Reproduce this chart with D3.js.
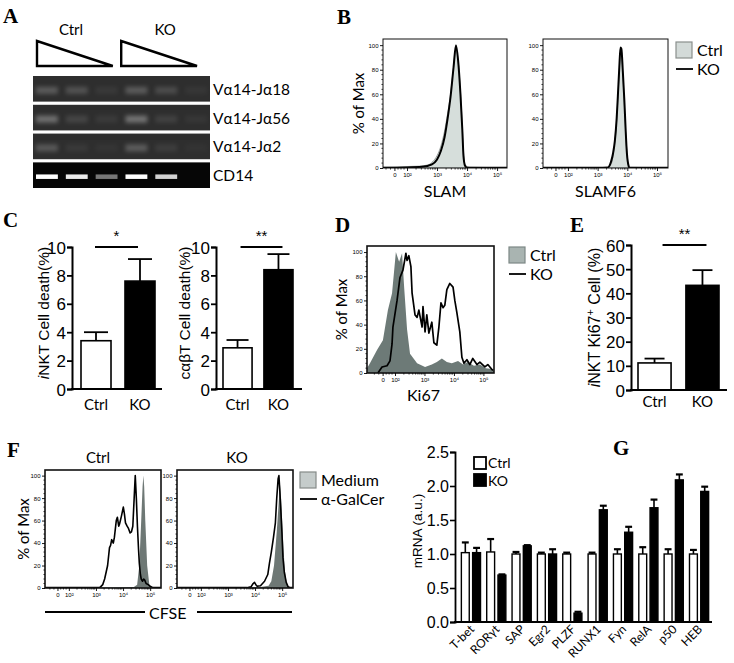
<!DOCTYPE html>
<html><head><meta charset="utf-8">
<script src="https://cdn.jsdelivr.net/npm/d3@7"></script>
<style>body{margin:0;background:#fff} svg{display:block}</style>
</head><body>
<svg id="c" width="734" height="663"></svg>
<script>
// ---------------- DATA ----------------
// Panel A (gel): lanes, rows and band intensities (0..1)
const gelGroups = ["Ctrl", "KO"];
const gelLanes = ["Ctrl 1", "Ctrl 2", "Ctrl 3", "KO 1", "KO 2", "KO 3"];
const gelRows = ["Vα14-Jα18", "Vα14-Jα56", "Vα14-Jα2", "CD14"];
const gelJa18 = [0.42, 0.34, 0.10, 0.42, 0.28, 0.08];
const gelJa56 = [0.62, 0.22, 0.12, 0.66, 0.18, 0.08];
const gelJa2 = [0.40, 0.10, 0.06, 0.44, 0.14, 0.05];
const gelCD14 = [1.0, 0.92, 0.45, 1.0, 0.82, 0.0];

// Flow cytometry axes
const flowYTicks = [0, 20, 40, 60, 80, 100];
const flowXTicks = [1.58, 2, 3, 4, 5];
const flowXLabels = ["0", "10²", "10³", "10⁴", "10⁵"];

// Panel B: [log10 intensity, % of max]
const slamCtrl = [[1.2,0.6],[1.6,0.8],[2.0,1.2],[2.4,1.5],[2.7,2.5],[2.85,5],[3.0,10],[3.13,18],[3.25,30],[3.35,44],[3.45,60],[3.55,82],[3.63,98],[3.7,88],[3.78,62],[3.84,35],[3.89,10],[3.95,2],[4.1,0.6],[4.6,0.4],[5.33,0.3]];
const slamKO = [[1.2,0.3],[2.0,0.5],[2.5,1],[2.83,3],[3.0,7],[3.13,14],[3.25,25],[3.35,40],[3.45,58],[3.55,82],[3.63,100],[3.7,88],[3.78,60],[3.84,32],[3.88,10],[3.93,2],[4.0,0.3],[5.33,0.2]];
const slamf6Ctrl = [[1.16,0.2],[3.3,0.3],[3.45,3],[3.55,15],[3.64,38],[3.7,65],[3.76,92],[3.79,97],[3.84,80],[3.9,52],[3.96,22],[4.02,5],[4.07,0.5],[5.37,0.2]];
const slamf6KO = [[1.16,0.3],[3.0,0.3],[3.35,0.5],[3.45,5],[3.52,12],[3.58,22],[3.64,40],[3.68,58],[3.73,82],[3.77,98],[3.8,97],[3.85,78],[3.9,55],[3.94,33],[3.97,18],[4.0,8],[4.03,3],[4.07,0.3],[5.37,0.3]];

// Panel C: cell death (%)
const deathGroups = ["Ctrl", "KO"];
const nktDeath = [3.4, 7.6];
const nktDeathErr = [0.6, 1.55];
const abtDeath = [2.9, 8.4];
const abtDeathErr = [0.55, 1.1];

// Panel D: Ki67 histograms
const ki67Ctrl = [[1.05,4],[1.15,8],[1.39,19],[1.59,27],[1.76,52],[1.9,66],[2.03,100],[2.14,92],[2.24,99],[2.31,71],[2.41,36],[2.51,16],[2.75,8],[3.02,5],[3.25,7],[3.42,9],[3.59,12],[3.76,9],[3.93,8],[4.14,10],[4.31,7],[4.47,9],[4.68,6],[4.88,7],[5.08,4],[5.36,3]];
const ki67KO = [[1.42,0],[1.56,5],[1.73,6],[1.83,10],[1.9,24],[1.93,38],[2.07,60],[2.17,79],[2.27,85],[2.37,99],[2.41,93],[2.47,97],[2.54,88],[2.58,66],[2.68,48],[2.75,46],[2.81,52],[2.92,38],[2.95,55],[3.02,34],[3.08,48],[3.15,33],[3.25,42],[3.32,25],[3.42,23],[3.49,38],[3.56,58],[3.63,54],[3.69,56],[3.76,69],[3.86,74],[3.97,71],[4.03,60],[4.1,50],[4.2,34],[4.27,13],[4.34,8],[4.44,11],[4.54,7],[4.64,12],[4.78,7],[4.88,9],[5.05,5],[5.15,7],[5.32,2]];

// Panel E: iNKT Ki67+ (%)
const ki67Groups = ["Ctrl", "KO"];
const ki67Pos = [11.2, 43.3];
const ki67PosErr = [1.8, 6.3];

// Panel F: CFSE histograms
const cfseCtrlMedium = [[1.12,0.5],[3.0,0.5],[4.4,0.8],[4.52,3],[4.6,20],[4.67,60],[4.72,90],[4.75,100],[4.78,90],[4.82,60],[4.89,20],[4.97,3],[5.04,0.5],[5.4,0.3]];
const cfseCtrlGalCer = [[1.12,0.3],[3.1,0.3],[3.17,1],[3.25,3],[3.32,8],[3.43,20],[3.5,36],[3.54,38],[3.58,43],[3.64,40],[3.68,45],[3.75,60],[3.79,63],[3.84,55],[3.87,57],[3.94,64],[4.01,72],[4.05,66],[4.09,58],[4.15,55],[4.2,53],[4.26,49],[4.31,50],[4.36,55],[4.41,80],[4.45,100],[4.49,80],[4.53,55],[4.57,35],[4.6,22],[4.64,12],[4.67,8],[4.72,6],[4.76,8],[4.8,7],[4.85,4],[4.93,3],[5.0,1.5],[5.1,0.3],[5.4,0.3]];
const cfseKOMedium = [[1.12,0.3],[2.2,0.8],[2.6,0.5],[3.5,0.5],[4.2,1],[4.5,2],[4.6,6],[4.7,20],[4.8,50],[4.87,75],[4.92,92],[4.96,80],[5.0,60],[5.05,35],[5.1,15],[5.17,4],[5.25,0.5],[5.4,0.3]];
const cfseKOGalCer = [[1.12,0.3],[3.7,0.3],[3.85,1],[3.93,4],[3.98,5],[4.03,3],[4.08,1.5],[4.2,2],[4.35,6],[4.47,12],[4.53,22],[4.6,32],[4.68,45],[4.75,58],[4.8,80],[4.85,97],[4.88,100],[4.91,88],[4.95,70],[4.99,50],[5.03,27],[5.08,14],[5.15,5],[5.22,1],[5.3,0.3],[5.4,0.3]];

// Panel G: mRNA (a.u.)
const geneNames = ["T-bet", "RORγt", "SAP", "Egr2", "PLZF", "RUNX1", "Fyn", "RelA", "p50", "HEB"];
const mrnaSeries = ["Ctrl", "KO"];
const mrnaCtrl = [1.02, 1.03, 1.0, 1.0, 1.0, 1.0, 1.0, 1.0, 1.0, 1.0];
const mrnaCtrlErr = [0.15, 0.19, 0.03, 0.02, 0.02, 0.02, 0.07, 0.1, 0.07, 0.06];
const mrnaKO = [1.02, 0.69, 1.12, 1.0, 0.13, 1.65, 1.32, 1.68, 2.09, 1.92];
const mrnaKOErr = [0.07, 0.01, 0.01, 0.07, 0.02, 0.06, 0.08, 0.12, 0.08, 0.07];
const mrnaTicks = [0, 0.5, 1.0, 1.5, 2.0, 2.5];

// ---------------- DRAW ----------------
const svg = d3.select("#c");
const SERIF = "'Liberation Serif','Times New Roman',serif";
const SANS = "Lato,'Noto Sans',sans-serif";
const ARIAL = "'Liberation Sans',Arial,sans-serif";
const defs = svg.append("defs");
defs.append("filter").attr("id","blurA").attr("x","-50%").attr("y","-100%").attr("width","200%").attr("height","300%")
  .append("feGaussianBlur").attr("stdDeviation", 1.9);
defs.append("filter").attr("id","blurB").attr("x","-50%").attr("y","-100%").attr("width","200%").attr("height","300%")
  .append("feGaussianBlur").attr("stdDeviation", 0.7);

function letter(t, x, y) {
  svg.append("text").attr("x", x).attr("y", y).attr("font-family", SERIF)
    .attr("font-weight", "bold").attr("font-size", 21).text(t);
}
function txt(g, t, x, y, size, opts = {}) {
  const e = g.append("text").attr("x", x).attr("y", y).attr("font-family", opts.font || SANS)
    .attr("font-size", size).attr("text-anchor", opts.anchor || "start").text(t);
  if (opts.rotate) e.attr("transform", `rotate(${opts.rotate},${x},${y})`);
  return e;
}

// ===== Panel A =====
letter("A", 3, 23);
(function () {
  const g = svg.append("g");
  const grp = d3.scaleBand().domain(gelGroups).range([37, 197]).paddingInner(0.1);
  gelGroups.forEach((k, i) => {
    const x0 = grp(k), x1 = x0 + grp.bandwidth();
    g.append("path").attr("d", `M${x0},41 L${x0},66 L${x1},66 Z`)
      .attr("fill", "#fff").attr("stroke", "#000").attr("stroke-width", 2.4).attr("stroke-linejoin", "miter");
    txt(g, k, x0 + [34, 44][i], 35, 15, { anchor: "middle" });
  });
  const lane = d3.scaleBand().domain(gelLanes).range([35, 208]).paddingInner(0.2);
  const row = d3.scaleBand().domain(gelRows).range([76, 188]).paddingInner(0.11);
  const rowVals = [gelJa18, gelJa56, gelJa2, gelCD14];
  gelRows.forEach((r, ri) => {
    const last = ri === gelRows.length - 1;
    const y0 = row(r), h = row.bandwidth();
    g.append("rect").attr("x", 33).attr("y", y0).attr("width", 177).attr("height", h)
      .attr("fill", last ? "#060606" : "#2e2e2e");
    const cy = y0 + h / 2 + 1.5;
    const bh = last ? 4.5 : 7;
    g.selectAll(null).data(gelLanes).join("rect")
      .attr("x", d => lane(d) + 1).attr("width", lane.bandwidth() - 2)
      .attr("y", cy - bh / 2).attr("height", bh)
      .attr("fill", "#fff")
      .attr("opacity", (d, i) => last ? rowVals[ri][i] : rowVals[ri][i] * 0.5)
      .attr("filter", last ? "url(#blurB)" : "url(#blurA)");
    txt(g, r, 213, cy + 4.5, 15.5);
  });
})();

// ===== Flow helper =====
function flowPanel(o) {
  const g = svg.append("g");
  const x = d3.scaleLinear().domain(o.dom).range([o.x0, o.x1]);
  const y = d3.scaleLinear().domain([0, 105]).range([o.yb, o.yt]);
  const cid = "clip" + o.id;
  g.append("clipPath").attr("id", cid).append("rect")
    .attr("x", o.x0).attr("y", o.yt).attr("width", o.x1 - o.x0).attr("height", o.yb - o.yt);
  const body = g.append("g").attr("clip-path", `url(#${cid})`);
  const area = d3.area().x(d => x(d[0])).y0(y(0)).y1(d => y(d[1])).curve(o.curve);
  const line = d3.line().x(d => x(d[0])).y(d => y(d[1])).curve(o.curve);
  body.append("path").datum(o.filled).attr("d", area).attr("fill", o.fill)
    .attr("stroke", o.fillStroke || "none").attr("stroke-width", 0.9);
  body.append("path").datum(o.lined).attr("d", line).attr("fill", "none")
    .attr("stroke", "#000").attr("stroke-width", o.sw || 1.6).attr("stroke-linejoin", "round");
  g.append("rect").attr("x", o.x0).attr("y", o.yt).attr("width", o.x1 - o.x0).attr("height", o.yb - o.yt)
    .attr("fill", "none").attr("stroke", "#111").attr("stroke-width", o.frameW || 1.2);
  // y axis
  const ya = g.append("g").attr("transform", `translate(${o.x0},0)`)
    .call(d3.axisLeft(y).tickValues(flowYTicks).tickSize(3).tickPadding(1.5).tickFormat(d3.format("d")));
  ya.select(".domain").remove();
  ya.selectAll("text").attr("font-size", 6).attr("font-family", ARIAL);
  ya.selectAll("line").attr("stroke-width", 0.9);
  g.append("g").selectAll("line").data(d3.range(0, 101, 4).filter(v => v % 20)).join("line")
    .attr("x1", o.x0 - 1.6).attr("x2", o.x0).attr("y1", d => y(d)).attr("y2", d => y(d))
    .attr("stroke", "#000").attr("stroke-width", 0.7);
  // x axis
  const xa = g.append("g").attr("transform", `translate(0,${o.yb})`)
    .call(d3.axisBottom(x).tickValues(flowXTicks).tickSize(3).tickPadding(2).tickFormat((d, i) => flowXLabels[i]));
  xa.select(".domain").remove();
  xa.selectAll("text").attr("font-size", 6).attr("font-family", ARIAL);
  xa.selectAll("line").attr("stroke-width", 0.9);
  const minor = [];
  [2, 3, 4].forEach(dd => d3.range(2, 10).forEach(k => minor.push(dd + Math.log10(k))));
  [1.3, 1.45, 1.7, 1.8, 1.9].forEach(v => minor.push(v));
  g.append("g").selectAll("line").data(minor.filter(v => v > o.dom[0] && v < o.dom[1])).join("line")
    .attr("x1", d => x(d)).attr("x2", d => x(d)).attr("y1", o.yb).attr("y2", o.yb + 1.6)
    .attr("stroke", "#000").attr("stroke-width", 0.7);
  if (o.xlabel) txt(g, o.xlabel, (o.x0 + o.x1) / 2 + (o.xlabelDx || 0), o.xlabelY, 16, { anchor: "middle" });
  if (o.ylabel) txt(g, "% of Max", o.ylabelX, (o.yt + o.yb) / 2, 15, { anchor: "middle", rotate: -90 });
  return g;
}
function flowLegend(x, y, names, boxFill, boxStroke) {
  const g = svg.append("g");
  g.append("rect").attr("x", x).attr("y", y).attr("width", 16).attr("height", 16)
    .attr("fill", boxFill).attr("stroke", boxStroke).attr("stroke-width", 1.2);
  txt(g, names[0], x + 21, y + 14, 16);
  g.append("line").attr("x1", x).attr("x2", x + 17).attr("y1", y + 27).attr("y2", y + 27)
    .attr("stroke", "#000").attr("stroke-width", 1.8);
  txt(g, names[1], x + 21, y + 33, 16);
}

// ===== Panel B =====
letter("B", 337, 24);
flowPanel({ id: "b1", x0: 383, x1: 507, yt: 39, yb: 168, dom: [1.2, 5.33], filled: slamCtrl, lined: slamKO,
  fill: "#d6dedb", fillStroke: "#8f9593", curve: d3.curveMonotoneX, sw: 2, frameW: 1,
  xlabel: "SLAM", xlabelY: 197, ylabel: true, ylabelX: 364 });
flowPanel({ id: "b2", x0: 543, x1: 668, yt: 39, yb: 168, dom: [1.16, 5.37], filled: slamf6Ctrl, lined: slamf6KO,
  fill: "#d6dedb", fillStroke: "#8f9593", curve: d3.curveMonotoneX, sw: 2, frameW: 1,
  xlabel: "SLAMF6", xlabelY: 197 });
flowLegend(676, 42, ["Ctrl", "KO"], "#d3dad8", "#8a8f8d");

// ===== Bar helper =====
function barPanel(o) {
  const g = svg.append("g");
  const y = d3.scaleLinear().domain([0, o.yMax]).range([o.yb, o.yt]);
  const x = d3.scaleBand().domain(o.cats).range(o.band).paddingInner(o.pad);
  const bw = x.bandwidth();
  g.selectAll(null).data(o.cats).join("line")
    .attr("x1", d => x(d) + bw / 2).attr("x2", d => x(d) + bw / 2)
    .attr("y1", (d, i) => y(o.vals[i])).attr("y2", (d, i) => y(o.vals[i] + o.errs[i]))
    .attr("stroke", "#000").attr("stroke-width", 1.8);
  g.selectAll(null).data(o.cats).join("line")
    .attr("x1", d => x(d) + bw / 2 - o.cap / 2).attr("x2", d => x(d) + bw / 2 + o.cap / 2)
    .attr("y1", (d, i) => y(o.vals[i] + o.errs[i])).attr("y2", (d, i) => y(o.vals[i] + o.errs[i]))
    .attr("stroke", "#000").attr("stroke-width", 1.8);
  g.selectAll(null).data(o.cats).join("rect")
    .attr("x", d => x(d)).attr("width", bw)
    .attr("y", (d, i) => y(o.vals[i])).attr("height", (d, i) => y(0) - y(o.vals[i]))
    .attr("fill", (d, i) => i === 0 ? "#fff" : "#000").attr("stroke", "#000").attr("stroke-width", 1.6);
  const ya = g.append("g").attr("transform", `translate(${o.axisX},0)`)
    .call(d3.axisLeft(y).tickValues(d3.range(0, o.yMax + 0.001, o.step)).tickSize(5).tickPadding(1).tickFormat(d3.format("d")));
  ya.select(".domain").attr("stroke-width", 2);
  ya.selectAll("line").attr("stroke-width", 1.8);
  ya.selectAll("text").attr("font-size", 17).attr("font-family", ARIAL).attr("fill", "#000").attr("dy", "0.36em");
  g.append("line").attr("x1", o.axisX - 1).attr("x2", o.axisEnd).attr("y1", y(0)).attr("y2", y(0))
    .attr("stroke", "#000").attr("stroke-width", 2);
  o.cats.forEach(c => txt(g, c, x(c) + bw / 2, o.catY, 15, { anchor: "middle" }));
  // significance
  const s0 = x(o.cats[0]) + bw / 2 + o.sigDx[0], s1 = x(o.cats[1]) + bw / 2 + o.sigDx[1];
  g.append("line").attr("x1", s0).attr("x2", s1).attr("y1", y(o.yMax)).attr("y2", y(o.yMax))
    .attr("stroke", "#000").attr("stroke-width", 2);
  txt(g, o.sig, (s0 + s1) / 2, y(o.yMax) - 6, 15, { anchor: "middle", font: ARIAL });
  // y label
  const yl = g.append("text").attr("font-family", ARIAL).attr("font-size", o.ylSize || 16)
    .attr("text-anchor", "middle")
    .attr("transform", `translate(${o.ylX},${(o.yb + o.yt) / 2 + (o.ylDy || 0)}) rotate(-90)`);
  o.ylabel(yl);
  return g;
}

// ===== Panel C =====
letter("C", 3, 227);
barPanel({ cats: deathGroups, vals: nktDeath, errs: nktDeathErr, yMax: 10, step: 2, yb: 389, yt: 247,
  band: [81, 155], pad: 0.318, axisX: 72, axisEnd: 162, cap: 24, catY: 410, sig: "*", sigDx: [-1, -2],
  ylX: 49, ylDy: -5, ylSize: 15.5,
  ylabel: t => { t.append("tspan").attr("font-style", "italic").text("i"); t.append("tspan").text("NKT Cell death(%)"); } });
barPanel({ cats: deathGroups, vals: abtDeath, errs: abtDeathErr, yMax: 10, step: 2, yb: 389, yt: 247,
  band: [223, 293], pad: 0.29, axisX: 216, axisEnd: 302, cap: 22, catY: 410, sig: "**", sigDx: [3, 4],
  ylX: 190, ylDy: -5, ylSize: 15.5,
  ylabel: t => t.text("cαβT Cell death(%)") });

// ===== Panel D =====
letter("D", 335, 232);
flowPanel({ id: "d", x0: 367, x1: 494, yt: 246, yb: 373, dom: [1.05, 5.36], filled: ki67Ctrl, lined: ki67KO,
  fill: "#6d7a77", curve: d3.curveLinear, sw: 1.7, frameW: 1.6,
  xlabel: "Ki67", xlabelY: 401, xlabelDx: -7, ylabel: true, ylabelX: 347 });
flowLegend(509, 247, ["Ctrl", "KO"], "#a9b4b1", "#7d8885");

// ===== Panel E =====
letter("E", 570, 232);
barPanel({ cats: ki67Groups, vals: ki67Pos, errs: ki67PosErr, yMax: 60, step: 10, yb: 390, yt: 245,
  band: [638, 719], pad: 0.31, axisX: 631, axisEnd: 727, cap: 20, catY: 407, sig: "**", sigDx: [8, 4],
  ylX: 600, ylDy: 0, ylSize: 16,
  ylabel: t => { t.append("tspan").attr("font-style", "italic").text("i"); t.append("tspan").text("NKT Ki67");
    t.append("tspan").attr("font-size", 11).attr("dy", -6).text("+"); t.append("tspan").attr("dy", 6).text(" Cell (%)"); } });

// ===== Panel F =====
letter("F", 7, 457);
(function () {
  const g = svg.append("g");
  txt(g, "Ctrl", 98, 463, 15, { anchor: "middle" });
  txt(g, "KO", 237, 463, 15, { anchor: "middle" });
})();
flowPanel({ id: "f1", x0: 45, x1: 161, yt: 470, yb: 588, dom: [1.12, 5.4], filled: cfseCtrlMedium, lined: cfseCtrlGalCer,
  fill: "#6e7875", curve: d3.curveLinear, sw: 1.6, frameW: 1.6, ylabel: true, ylabelX: 29 });
flowPanel({ id: "f2", x0: 177, x1: 293, yt: 470, yb: 588, dom: [1.12, 5.4], filled: cfseKOMedium, lined: cfseKOGalCer,
  fill: "#6e7875", curve: d3.curveLinear, sw: 1.6, frameW: 1.6 });
(function () {
  const g = svg.append("g");
  g.append("line").attr("x1", 45).attr("x2", 145).attr("y1", 612).attr("y2", 612).attr("stroke", "#000").attr("stroke-width", 2);
  g.append("line").attr("x1", 197).attr("x2", 292).attr("y1", 612).attr("y2", 612).attr("stroke", "#000").attr("stroke-width", 2);
  txt(g, "CFSE", 149, 619, 16);
})();
flowLegend(300, 472, ["Medium", "α-GalCer"], "#c5cccb", "#858b89");

// ===== Panel G =====
letter("G", 613, 455);
(function () {
  const g = svg.append("g");
  const y = d3.scaleLinear().domain([0, 2.5]).range([622, 452]);
  const x0 = d3.scaleBand().domain(geneNames).range([457, 713]).paddingInner(0.2).paddingOuter(0.15);
  const x1 = d3.scaleBand().domain(mrnaSeries).range([0, x0.bandwidth()]).paddingInner(0.3).paddingOuter(0.05);
  const vals = { Ctrl: mrnaCtrl, KO: mrnaKO }, errs = { Ctrl: mrnaCtrlErr, KO: mrnaKOErr };
  const bw = x1.bandwidth();
  mrnaSeries.forEach(s => {
    const gs = g.append("g");
    gs.selectAll(null).data(geneNames).join("line")
      .attr("x1", d => x0(d) + x1(s) + bw / 2).attr("x2", d => x0(d) + x1(s) + bw / 2)
      .attr("y1", (d, i) => y(vals[s][i])).attr("y2", (d, i) => y(vals[s][i] + errs[s][i]))
      .attr("stroke", "#000").attr("stroke-width", 1.6);
    gs.selectAll(null).data(geneNames).join("line")
      .attr("x1", d => x0(d) + x1(s) + 0.5).attr("x2", d => x0(d) + x1(s) + bw - 0.5)
      .attr("y1", (d, i) => y(vals[s][i] + errs[s][i])).attr("y2", (d, i) => y(vals[s][i] + errs[s][i]))
      .attr("stroke", "#000").attr("stroke-width", 2.2);
    gs.selectAll(null).data(geneNames).join("rect")
      .attr("x", d => x0(d) + x1(s)).attr("width", bw)
      .attr("y", (d, i) => y(vals[s][i])).attr("height", (d, i) => y(0) - y(vals[s][i]))
      .attr("fill", s === "Ctrl" ? "#fff" : "#000").attr("stroke", "#000").attr("stroke-width", 1.4);
  });
  const ya = g.append("g").attr("transform", "translate(455,0)")
    .call(d3.axisLeft(y).tickValues(mrnaTicks).tickSize(5).tickPadding(1).tickFormat(d3.format(".1f")));
  ya.select(".domain").attr("stroke-width", 1.8);
  ya.selectAll("line").attr("stroke-width", 1.6);
  ya.selectAll("text").attr("font-size", 16).attr("font-family", ARIAL).attr("fill", "#000").attr("dy", "0.36em");
  g.append("line").attr("x1", 454).attr("x2", 712).attr("y1", y(0)).attr("y2", y(0)).attr("stroke", "#000").attr("stroke-width", 1.8);
  geneNames.forEach(n => {
    const cx = x0(n) + x0.bandwidth() / 2 + 4;
    txt(g, n, cx, 630, 12, { anchor: "end", rotate: -45 });
  });
  txt(g, "mRNA (a.u.)", 422, 531, 13.5, { anchor: "middle", rotate: -90, font: ARIAL });
  // legend
  g.append("rect").attr("x", 474).attr("y", 457).attr("width", 12).attr("height", 12).attr("fill", "#fff").attr("stroke", "#000").attr("stroke-width", 1.8);
  g.append("rect").attr("x", 474).attr("y", 474).attr("width", 12).attr("height", 12).attr("fill", "#000").attr("stroke", "#000").attr("stroke-width", 1.8);
  txt(g, mrnaSeries[0], 488, 468, 14);
  txt(g, mrnaSeries[1], 488, 486, 14);
})();
</script>
</body></html>
